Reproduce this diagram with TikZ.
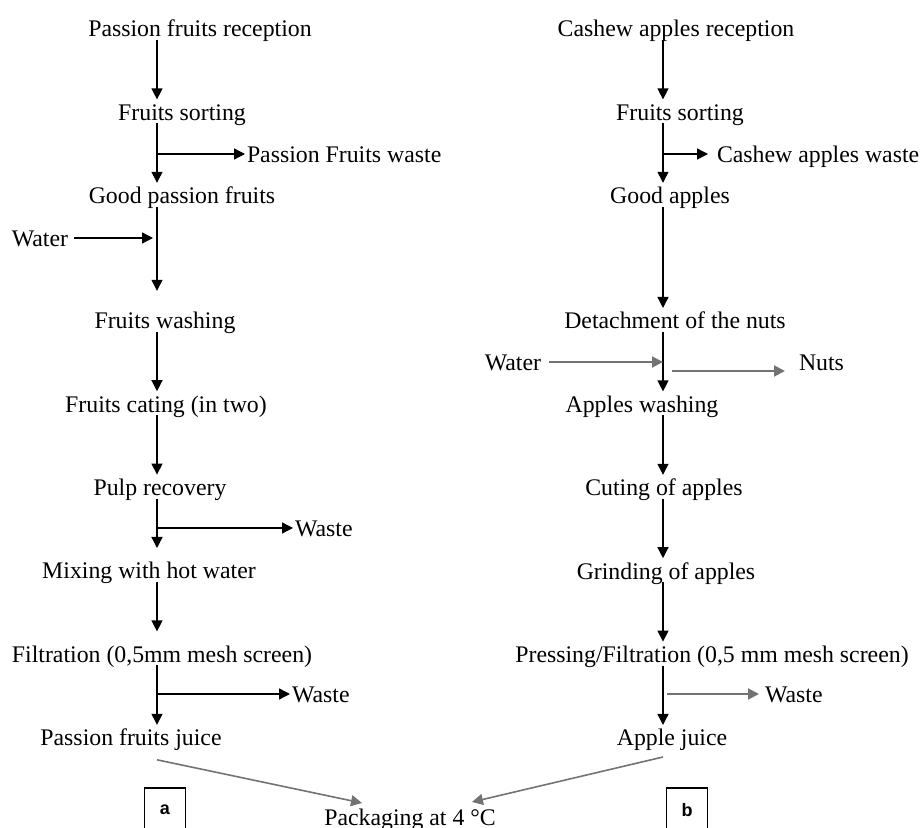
\documentclass[tikz,border=0pt]{standalone}
\usepackage{fontspec}
\setmainfont{Liberation Serif}
\setsansfont{Liberation Sans}
\usepackage{tikz}
\usetikzlibrary{arrows.meta}
\definecolor{cgray}{rgb}{0.45, 0.45, 0.45}

\begin{document}
\begin{tikzpicture}[x=0.5pt,y=-0.5pt,->,>={Triangle[length=5.5pt,width=5.5pt]},
  line width=0.65pt,node distance=41.7pt,
  step node/.style={inner sep=0pt,outer sep=1pt,text height=9.5pt,text depth=0.5pt,font=\fontsize{11.9}{14}\selectfont},
  side node/.style={step node,anchor=west},
  tag node/.style={draw,line width=0.6pt,minimum width=20.5pt,minimum height=22pt,font=\sffamily\bfseries\fontsize{9}{10}\selectfont},
  gray arrow/.style={draw=cgray,line width=1pt}]
  \useasboundingbox (0,0) rectangle (922,828);
  \coordinate (axL) at (157,0);
  \coordinate (axR) at (663,0);

  \node[step node] (1) at (200,28) {Passion fruits reception};
  \node[step node] (2) [below of=1,xshift=-9pt] {Fruits sorting};
  \node[step node] (3) [below of=2] {Good passion fruits};
  \node[step node] (4) [node distance=62.5pt,below of=3,xshift=-8.5pt] {Fruits washing};
  \node[step node] (5) [below of=4,xshift=0.5pt] {Fruits cating (in two)};
  \node[step node] (6) [below of=5,xshift=-3pt] {Pulp recovery};
  \node[step node] (7) [below of=6,xshift=-5.5pt] {Mixing with hot water};
  \node[step node] (8) [below of=7,xshift=6.5pt] {Filtration (0,5mm mesh screen)};
  \node[step node] (9) [below of=8,xshift=-15.5pt] {Passion fruits juice};

  \node[step node] (10) at (676,28) {Cashew apples reception};
  \node[step node] (11) [below of=10,xshift=2pt] {Fruits sorting};
  \node[step node] (12) [below of=11,xshift=-5pt] {Good apples};
  \node[step node] (13) [node distance=62.6pt,below of=12,xshift=2.5pt] {Detachment of the nuts};
  \node[step node] (14) [below of=13,xshift=-16.5pt] {Apples washing};
  \node[step node] (15) [below of=14,xshift=11pt] {Cuting of apples};
  \node[step node] (16) [below of=15,xshift=1pt] {Grinding of apples};
  \node[step node] (17) [below of=16,xshift=23pt] {Pressing/Filtration (0,5 mm mesh screen)};
  \node[step node] (18) [below of=17,xshift=-20pt] {Apple juice};

  \node[side node] (19) at (245,154) {Passion Fruits waste};
  \node[step node,anchor=east] (20) at (70,238) {Water};
  \node[side node] (21) at (293,528) {Waste};
  \node[side node] (22) at (290,694) {Waste};
  \node[side node] (23) at (715,154) {Cashew apples waste};
  \node[step node,anchor=east] (24) at (543,362) {Water};
  \node[side node] (25) at (797,362) {Nuts};
  \node[side node] (26) at (763,694) {Waste};
  \node[step node] (27) at (410,817) {Packaging at 4 °C};
  \node[tag node] (28) at (165,810) {a};
  \node[tag node] (29) at (687,810) {b};

  \path
    (1.south -| axL) edge (2.north -| axL)
    (2.south -| axL) edge (3.north -| axL)
    (3.south -| axL) edge[shorten >=8.5pt] (4.north -| axL)
    (4.south -| axL) edge (5.north -| axL)
    (5.south -| axL) edge (6.north -| axL)
    (6.south -| axL) edge[shorten >=5pt] (7.north -| axL)
    (7.south -| axL) edge[shorten >=5pt] (8.north -| axL)
    (8.south -| axL) edge (9.north -| axL)
    (19.west -| axL) edge (19.west)
    (20.east) edge[shorten <=2pt,shorten >=2pt] (20.east -| axL)
    (21.west -| axL) edge (21.west)
    (22.west -| axL) edge (22.west)
    ([yshift=-5.5pt]9.south -| axL) edge[gray arrow,line width=0.8pt] ([xshift=-24pt,yshift=1pt]27.north)
    (10.south -| axR) edge (11.north -| axR)
    (11.south -| axR) edge (12.north -| axR)
    (12.south -| axR) edge (13.north -| axR)
    (13.south -| axR) edge (14.north -| axR)
    (14.south -| axR) edge (15.north -| axR)
    (15.south -| axR) edge (16.north -| axR)
    (16.south -| axR) edge (17.north -| axR)
    (17.south -| axR) edge (18.north -| axR)
    (23.west -| axR) edge[shorten >=3.5pt] (23.west)
    (24.east) edge[gray arrow,shorten <=3pt] (24.east -| axR)
    ([yshift=-4.5pt]25.west -| axR) edge[gray arrow,shorten <=4.5pt,shorten >=6pt] ([yshift=-4.5pt]25.west)
    (26.west -| axR) edge[gray arrow,shorten <=2pt,shorten >=2pt] (26.west)
    ([yshift=-4pt]18.south -| axR) edge[gray arrow,line width=0.8pt] ([xshift=31pt,yshift=1.5pt]27.north);
\end{tikzpicture}
\end{document}
